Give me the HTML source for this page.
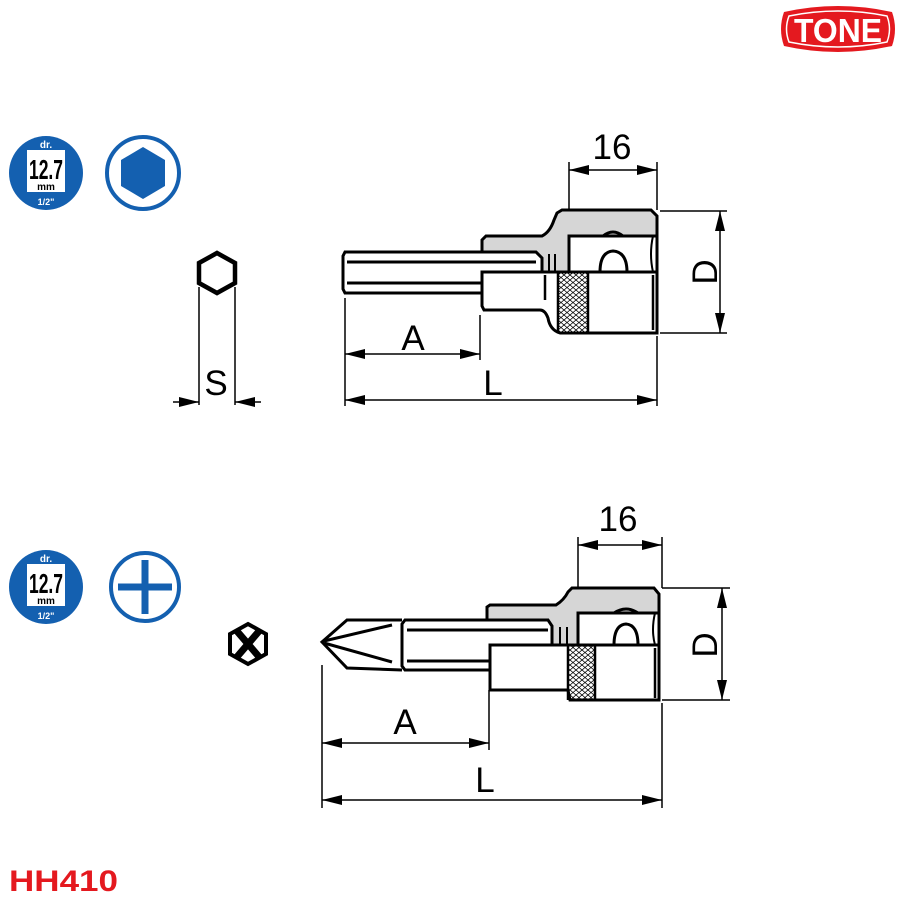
<!DOCTYPE html>
<html><head><meta charset="utf-8"><style>
html,body{margin:0;padding:0;background:#fff;width:900px;height:900px;overflow:hidden}
svg{display:block}
text{font-family:"Liberation Sans",sans-serif}
</style></head><body>
<svg width="900" height="900" viewBox="0 0 900 900" xmlns="http://www.w3.org/2000/svg">
<defs>
<marker id="ar" viewBox="0 0 20 10" refX="20" refY="5" markerWidth="20" markerHeight="10" markerUnits="userSpaceOnUse" orient="auto-start-reverse"><path d="M0,0L20,5L0,10z" fill="#000"/></marker>
<pattern id="kn" width="6" height="5" patternUnits="userSpaceOnUse"><path d="M0,0L3,2.5L6,0M0,5L3,2.5L6,5" stroke="#000" stroke-width="0.8" fill="none"/></pattern>
</defs>
<!-- TONE logo -->
<path d="M784,12 Q838,0 892,12 Q898,29 892,46 Q838,58 784,46 Q778,29 784,12z" fill="#e4191f"/>
<path d="M789,16 Q838,6 887,16 Q892,29 887,42 Q838,52 789,42 Q784,29 789,16z" fill="none" stroke="#fff" stroke-width="1.5"/>
<text x="838" y="42" text-anchor="middle" font-size="33" font-weight="bold" fill="#fff" textLength="88" lengthAdjust="spacingAndGlyphs">TONE</text>
<!-- icons top -->
<g>
<circle cx="46" cy="173" r="37" fill="#1460b0"/>
<rect x="27" y="150" width="38" height="42" fill="#fff"/>
<text x="46" y="148" text-anchor="middle" font-size="10" font-weight="bold" fill="#fff">dr.</text>
<text x="46" y="179" text-anchor="middle" font-size="28" font-weight="bold" fill="#000" textLength="34" lengthAdjust="spacingAndGlyphs">12.7</text>
<text x="46" y="190" text-anchor="middle" font-size="10" font-weight="bold" fill="#000">mm</text>
<text x="46" y="205" text-anchor="middle" font-size="9" font-weight="bold" fill="#fff">1/2"</text>
<circle cx="143" cy="173" r="36" fill="#fff" stroke="#1460b0" stroke-width="4"/>
<path d="M143,147 L165,160 L165,186 L143,199 L121,186 L121,160z" fill="#1460b0"/>
</g>
<g>
<circle cx="46" cy="587" r="37" fill="#1460b0"/>
<rect x="27" y="564" width="38" height="42" fill="#fff"/>
<text x="46" y="562" text-anchor="middle" font-size="10" font-weight="bold" fill="#fff">dr.</text>
<text x="46" y="593" text-anchor="middle" font-size="28" font-weight="bold" fill="#000" textLength="34" lengthAdjust="spacingAndGlyphs">12.7</text>
<text x="46" y="604" text-anchor="middle" font-size="10" font-weight="bold" fill="#000">mm</text>
<text x="46" y="619" text-anchor="middle" font-size="9" font-weight="bold" fill="#fff">1/2"</text>
<circle cx="145" cy="587" r="34" fill="#fff" stroke="#1460b0" stroke-width="4"/>
<path d="M145,560V614M118,587H172" stroke="#1460b0" stroke-width="7"/>
</g>
<g fill="none" stroke="#000">
<!-- small hex -->
<path d="M217,253 L235,263 L235,283 L217,293 L199,283 L199,263z" stroke-width="4.5"/>
<path d="M199,287V405M235,287V405" stroke-width="1.5"/>
<path d="M173,402H199" stroke-width="1.5" marker-end="url(#ar)"/>
<path d="M261,402H235" stroke-width="1.5" marker-end="url(#ar)"/>
<!-- top tool -->
<path d="M482,272 L482,240 L486,236 L542,236 Q550,232 554,220 L557,213 L562,210 L651,210 L657,216 L657,272z" fill="#d6d6d6" stroke-width="3"/>
<rect x="569" y="236" width="88" height="36" fill="#fff" stroke-width="3"/>
<path d="M600,272 Q600,252 613,251 Q627,252 627,272" stroke-width="3"/>
<path d="M603,236 Q613,228 623,236" stroke-width="3"/>
<path d="M653,236 Q649,254 653,272" stroke-width="2"/>
<path d="M345,252 L536,252 L542,258 L542,287 L536,293 L345,293 L343,289 L343,256z" fill="#fff" stroke-width="3"/>
<path d="M347,262H536M347,283H536" stroke-width="3"/>
<path d="M549,254V272M555,254V272" stroke-width="2"/>
<path d="M482,272 L657,272 L657,333 L560,333 Q550,330 548,318 Q545,310 540,310 L484,310 L482,306z" fill="#fff" stroke-width="3"/>
<rect x="558" y="273" width="30" height="59" fill="url(#kn)" stroke="none"/>
<path d="M558,273V333M588,273V333M545,275V300M653,275V330" stroke-width="2.5"/>
<!-- top dims -->
<path d="M569,162V210M657,162V210" stroke-width="1.5"/>
<path d="M569,170H657" stroke-width="1.5" marker-start="url(#ar)" marker-end="url(#ar)"/>
<path d="M660,211H727M660,333H727" stroke-width="1.5"/>
<path d="M720,211V333" stroke-width="1.5" marker-start="url(#ar)" marker-end="url(#ar)"/>
<path d="M345,298V406M480,315V360M657,336V406" stroke-width="1.5"/>
<path d="M345,354H480" stroke-width="1.5" marker-start="url(#ar)" marker-end="url(#ar)"/>
<path d="M345,400H657" stroke-width="1.5" marker-start="url(#ar)" marker-end="url(#ar)"/>
<!-- cross hex -->
<path d="M248,624 L266,634 L266,654 L248,664 L230,654 L230,634z" stroke-width="4"/>
<path d="M236,630L260,658M260,630L236,658" stroke-width="7"/>
<!-- bottom tool -->
<path d="M487,645 L487,607 L490,605 L556,605 Q564,600 568,592 L572,588 L654,588 L659,594 L659,645z" fill="#d6d6d6" stroke-width="3"/>
<rect x="578" y="613" width="81" height="32" fill="#fff" stroke-width="3"/>
<path d="M614,645 Q614,625 626,624 Q638,625 638,645" stroke-width="3"/>
<path d="M614,613 Q626,605 638,613" stroke-width="3"/>
<path d="M655,613 Q651,630 655,645" stroke-width="2"/>
<path d="M405,620 L548,620 L552,626 L552,664 L548,670 L405,670 L402,666 L402,624z" fill="#fff" stroke-width="3"/>
<path d="M407,630H548M407,661H548" stroke-width="3"/>
<path d="M402,620 L347,620 L322,642 L347,668 L402,670" stroke-width="3"/>
<path d="M324,641 L392,625 M324,643 L392,662" stroke-width="3"/>
<path d="M560,627V645M567,627V645" stroke-width="2"/>
<path d="M490,645 L659,645 L659,700 L570,700 L568,690 L490,690z" fill="#fff" stroke-width="3"/>
<rect x="568" y="646" width="27" height="53" fill="url(#kn)" stroke="none"/>
<path d="M568,646V700M595,646V700M655,648V698" stroke-width="2.5"/>
<!-- bottom dims -->
<path d="M578,537V588M662,537V588" stroke-width="1.5"/>
<path d="M578,545H662" stroke-width="1.5" marker-start="url(#ar)" marker-end="url(#ar)"/>
<path d="M662,588H730M662,700H730" stroke-width="1.5"/>
<path d="M722,588V700" stroke-width="1.5" marker-start="url(#ar)" marker-end="url(#ar)"/>
<path d="M322,665V808M489,690V750M662,703V808" stroke-width="1.5"/>
<path d="M322,743H489" stroke-width="1.5" marker-start="url(#ar)" marker-end="url(#ar)"/>
<path d="M322,800H662" stroke-width="1.5" marker-start="url(#ar)" marker-end="url(#ar)"/>
</g>
<g font-size="35" fill="#000" text-anchor="middle">
<text x="612" y="159">16</text>
<text x="413" y="350">A</text>
<text x="493" y="395">L</text>
<text x="216" y="395">S</text>
<text x="705" y="272" transform="rotate(-90 705 272)" dy="12">D</text>
<text x="618" y="531">16</text>
<text x="405" y="734">A</text>
<text x="485" y="792">L</text>
<text x="705" y="645" transform="rotate(-90 705 645)" dy="12">D</text>
</g>
<text x="9" y="891" font-size="30" font-weight="bold" fill="#e4191f" textLength="109" lengthAdjust="spacingAndGlyphs">HH410</text>
</svg>
</body></html>
